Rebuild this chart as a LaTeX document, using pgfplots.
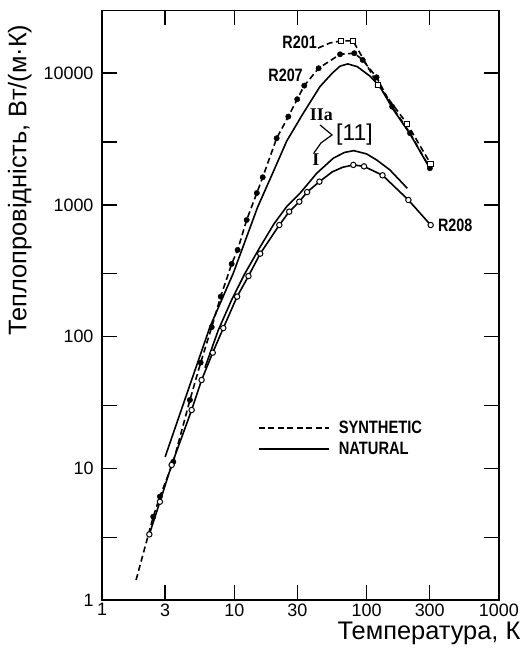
\documentclass[border=0pt]{standalone}
\usepackage{fontspec}
\setmainfont{Liberation Sans}
\newfontfamily\serifroman{Liberation Serif}
\usepackage{graphicx}
\usepackage{pgfplots}
\pgfplotsset{compat=1.18}
\begin{document}
\begin{tikzpicture}
\begin{axis}[
  at={(0,0)}, anchor=south west,
  scale only axis, width=396.9bp, height=589.7bp,
  xmode=log, ymode=log,
  xmin=1, xmax=1000, ymin=1, ymax=30000,
  xtick={1,3,10,30,100,300,1000},
  xticklabels={1,3,10,30,100,300,1000},
  ytick={1,3,10,30,100,300,1000,3000,10000,30000},
  yticklabels={1,,10,,100,,1000,,10000,},
  xminorticks=false, yminorticks=false,
  tick align=inside,
  major tick length=15bp,
  tick style={line width=1.3bp, black},
  axis line style={line width=1.5bp},
  ticklabel style={font=\fontsize{18}{20}\selectfont},
  /pgf/number format/assume math mode=true,
  yticklabel style={xshift=-5bp},
  xlabel={Температура, К},
  ylabel={Теплопровідність, Вт/(м·К)},
  label style={font=\fontsize{25.5}{28}\selectfont},
  xlabel style={at={(axis description cs:1,0)}, anchor=east, xshift=25bp, yshift=-33bp},
  ylabel style={at={(axis description cs:-0.207,0.712)}, anchor=center},
  clip=false,
  legend style={draw=none, fill=none, at={(axis cs:15.1,16.8)}, anchor=west,
    inner sep=0pt, row sep=3bp, font=\fontsize{18}{20}\selectfont\bfseries,
    /tikz/every odd column/.append style={column sep=7bp}},
  legend cell align=left,
  legend image code/.code={\draw[#1] (0bp,0bp) -- (70bp,0bp);},
]
\addlegendimage{black, line width=1.6bp, dash pattern=on 6bp off 3.5bp}
\addlegendimage{black, line width=1.6bp}
\legend{\scalebox{0.82}[1]{SYNTHETIC},\scalebox{0.82}[1]{NATURAL}}

% R207 synthetic, dashed, filled circles
\addplot[black, line width=1.6bp, dash pattern=on 6bp off 3.5bp, forget plot] coordinates {
(1.81,1.42) (2.44,4.29) (2.74,6.1) (3.46,11.2) (4.62,33) (5.57,63.4) (6.75,118)
(7.89,201) (9.55,356) (10.6,455) (12.4,768) (14.8,1230) (16.4,1620) (20.9,3205)
(25.6,4677) (29.9,6340) (33.8,8035) (43.4,10890) (63,13900) (80.7,14160)
(93.4,12590) (119,9300) (156,5570) (213,3500) (301,1897)};
\addplot[black, only marks, mark=*, mark size=2.7bp, forget plot] coordinates {
(2.44,4.29) (2.74,6.1) (3.46,11.2) (4.62,33) (5.57,63.4) (6.75,118)
(7.89,201) (9.55,356) (10.6,455) (12.4,768) (14.8,1230) (16.4,1620) (20.9,3205)
(25.6,4677) (29.9,6340) (33.8,8035) (43.4,10890) (63,13900) (80.7,14160)
(93.4,12590) (119,9300) (156,5570) (213,3500) (301,1897)};

% R201 synthetic, dashed, open squares
\addplot[black, line width=1.6bp, dash pattern=on 6bp off 3.5bp, forget plot] coordinates {
(43,15500) (52.9,16950) (64,17570) (79,17570) (122,8130) (203,4110) (305,2045)};
\addplot[black, only marks, mark=square*, mark size=2.7bp, mark options={fill=white, line width=1bp}, forget plot] coordinates {
(64,17570) (79,17570) (122,8130) (203,4110) (305,2045)};

% IIa natural, solid
\addplot[black, line width=1.6bp, forget plot] coordinates {
(3.0,12.2) (4.22,33) (6.56,119) (9.83,303) (15,960) (19.5,1740) (24.9,3050)
(33.2,4960) (44.4,7900) (55,10000) (63,11300) (72,11750) (85,11200) (106,9500)
(126,7900) (159,5300) (213,3450) (300,1900)};

% I natural, solid
\addplot[black, line width=1.6bp, forget plot] coordinates {
(6.0,58) (7.57,112) (9.55,190) (12,300) (15.5,470) (20,720) (24.9,970) (31.4,1225)
(42,1738) (56,2260) (68,2500) (80,2580) (100,2436) (119,2193) (150,1842) (203,1336)};

% R208 natural, solid, open circles
\addplot[black, line width=1.6bp, forget plot] coordinates {
(2.28,3.15) (2.74,5.57) (3.36,10.6) (4.76,27.7) (5.66,46.8) (6.87,75.5) (8.26,116)
(10.5,201) (12.8,288) (15.7,426) (21.9,703) (26.0,888) (31.0,1057) (35.5,1250)
(44,1500) (55,1780) (66,1930) (79.4,2010) (95.6,1960) (132,1677) (207,1089) (305,703)};
\addplot[black, only marks, mark=*, mark size=2.7bp, mark options={fill=white, line width=1bp}, forget plot] coordinates {
(2.28,3.15) (2.74,5.57) (3.36,10.6) (4.76,27.7) (5.66,46.8) (6.87,75.5) (8.26,116)
(10.5,201) (12.8,288) (15.7,426) (21.9,703) (26.0,888) (31.0,1057) (35.5,1250)
(44,1500) (79.4,2010) (95.6,1960) (132,1677) (207,1089) (305,703)};

% labels
\node[anchor=east, inner sep=1bp, font=\fontsize{18}{20}\selectfont\bfseries] at (axis cs:42.9,17260) {\scalebox{0.8}[1]{R201}};
\node[anchor=east, inner sep=1bp, font=\fontsize{18}{20}\selectfont\bfseries] at (axis cs:33.6,9690) {\scalebox{0.8}[1]{R207}};
\node[anchor=west, inner sep=1bp, font=\fontsize{18}{20}\selectfont\bfseries] at (axis cs:340,703) {\scalebox{0.8}[1]{R208}};
\node[inner sep=0pt, font=\fontsize{18}{20}\selectfont\serifroman\bfseries] at (axis cs:45.5,4820) {IIa};
\node[inner sep=0pt, font=\fontsize{18}{20}\selectfont\serifroman\bfseries] at (axis cs:41.4,2193) {I};
\draw[line width=1.2bp] (axis cs:44.4,4045) -- (axis cs:54.8,3395) -- (axis cs:45.2,2950) -- (axis cs:40.0,2477);
\node[anchor=west, inner sep=1bp, font=\fontsize{23}{25}\selectfont] at (axis cs:57.7,3395) {[11]};
\end{axis}
\pgfresetboundingbox
\path (-102bp,-52bp) rectangle (424bp,600bp);
\end{tikzpicture}
\end{document}
